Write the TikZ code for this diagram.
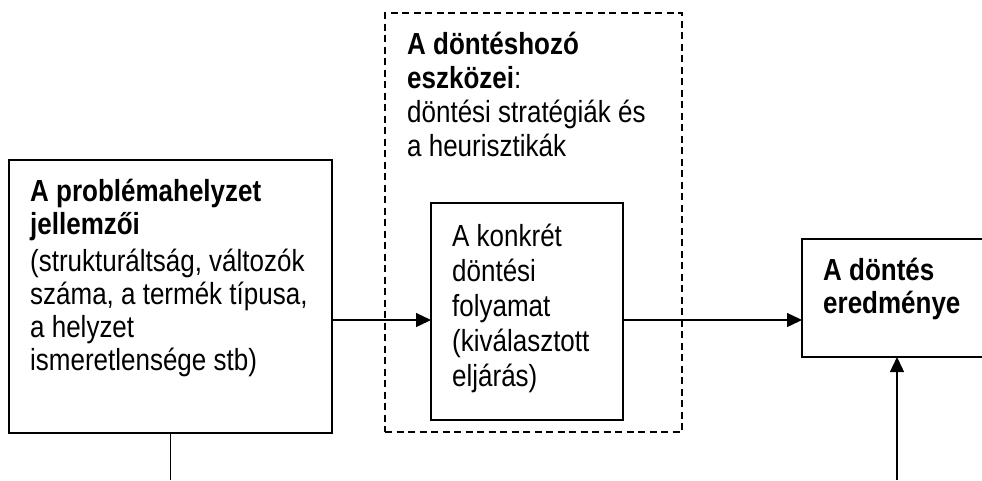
\documentclass[tikz,border=0pt]{standalone}
\usepackage{fontspec}
\setmainfont{Liberation Sans}[FakeStretch=0.852]
\usetikzlibrary{positioning,arrows.meta}
\newcommand{\hstrut}{\rule{0pt}{28pt}}

\begin{document}
\begin{tikzpicture}[x=1pt,y=-1pt,
      font=\fontsize{30.5}{34}\selectfont,
      box/.style={draw,line width=1.6pt,anchor=north west,inner sep=0pt,outer sep=0pt},
      tools/.style={draw,dash pattern=on 7pt off 4.5pt,line width=1.5pt,anchor=north west,inner sep=0pt,outer sep=0pt},
      txt/.style={align=left,anchor=north west,inner sep=0pt},
      arr/.style={-{Triangle[length=15pt,width=14pt]},line width=1.4pt}]
    \useasboundingbox (0,0) rectangle (982,480);
    % boxes
    \node[box,minimum width=323pt,minimum height=273pt] (prob) at (9,160) {};
    \node[tools,minimum width=297pt,minimum height=419pt] (eszk) at (385,13) {};
    \node[box,line width=1.3pt,minimum width=192pt,minimum height=217pt] (folyamat) at (431,203) {};
    \node[box,minimum width=190pt,minimum height=118pt] (eredmeny) at (802,239) {};
    % texts
    \node[txt,font=\fontsize{30.5}{33}\selectfont] (probtxt) at (30,173) {\hstrut\textbf{A problémahelyzet}\\
      \textbf{jellemzői}\\[4.5pt] (strukturáltság, változók\\ száma, a termék típusa,\\
      a helyzet\\ ismeretlensége stb)};
    \node[txt] (eszktxt) at (407,26.3) {\hstrut\textbf{A döntéshozó}\\
      \textbf{eszközei}:\\ döntési stratégiák és\\ a heurisztikák};
    \node[txt,font=\fontsize{30.5}{35}\selectfont] (folytxt) at (452,218.7) {\hstrut A konkrét\\ döntési\\ folyamat\\
      (kiválasztott\\ eljárás)};
    \node[txt,font=\fontsize{30.5}{33.3}\selectfont] (eredtxt) at (823,252) {\hstrut\textbf{A döntés}\\ \textbf{eredménye}};
    % connectors
    \coordinate (lvl) at (0,320);
    \coordinate (probend) at (170.5,480);
    \coordinate (inend) at (897,480);
    \draw[line width=1.4pt] (prob.south) -- (probend);
    \draw[arr] (prob.east |- lvl) -- (folyamat.west |- lvl);
    \draw[arr] (folyamat.east |- lvl) -- (eredmeny.west |- lvl);
    \draw[arr] (inend) -- (eredmeny.south);
  \end{tikzpicture}
\end{document}
